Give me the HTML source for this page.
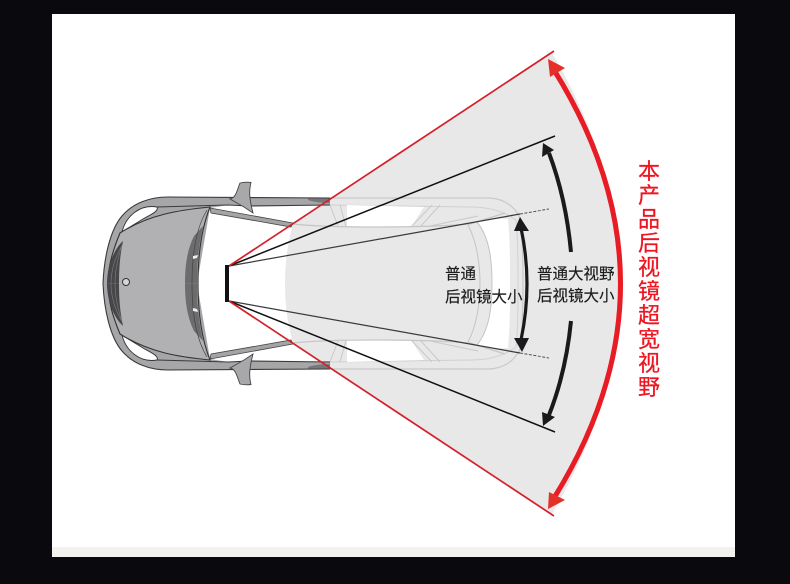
<!DOCTYPE html>
<html><head><meta charset="utf-8"><style>
html,body{margin:0;padding:0;background:#0a0a0e}
svg{display:block}
text{font-family:"Liberation Sans","Noto Sans CJK SC",sans-serif}
</style></head><body>
<svg width="790" height="584" viewBox="0 0 790 584" xmlns="http://www.w3.org/2000/svg">
<rect width="790" height="584" fill="#0a0a0e"/>
<rect x="52" y="14" width="683" height="543" fill="#fff"/>
<rect x="52" y="547" width="683" height="10" fill="#f3f2ee"/>

<!-- wedge -->
<path d="M293,224 C287,245 285,265 285,283.5 C285,302 287,322 293,343 L552,514 Q688,283.5 552,53 Z" fill="#e8e8e9"/>

<defs>
<g id="half">
 <!-- ghost rear half -->
 <path d="M330,198 L490,198 C505,199 515,207 520,218 C522,235 523,260 523,283.5" fill="none" stroke="#c9c9cb" stroke-width="1.2"/>
 <path d="M330,205 L470,207 C490,207 505,212 516,220 C518,240 518,260 518,283.5" fill="none" stroke="#d0d0d2" stroke-width="1"/>
 <path d="M347,205 L347,227 L411,227 L424,207 Z" fill="#fff"/>
 <path d="M293,224 C330,228 420,228 470,224 L505,213" fill="none" stroke="#c6c6c8" stroke-width="1.2"/>
 <path d="M330,205 L338,226 M340,205 L346,227 M411,227 L432,205 M420,227 L440,205 M430,226 L478,216" fill="none" stroke="#c9c9cb" stroke-width="1"/>
 <path d="M477,222 C490,219 500,218 508,219 C510,240 510,262 510,283.6 L492,283.6 C492,262 490,240 477,222Z" fill="#fff"/>
 <path d="M468,225 C476,240 480,262 480,283.5 M477,222 C490,238 492,262 492,283.5" fill="none" stroke="#c4c4c6" stroke-width="1"/>

 <!-- front body fill -->
 <path d="M103,283.6 C104,258 110,230 122,216 C133,203 150,197 168,197 L330,198 L330,205 L248,206 L228,205 L210,208 L197,283.6 Z" fill="#a6a6a8"/>
 <path d="M103,283.6 C104,258 110,230 122,216 C133,203 150,197 168,197 L330,198 M330,205 L248,206 L228,205 L157,207" fill="none" stroke="#3a3a3c" stroke-width="1.100"/>
 <!-- headlight -->
 <path d="M122,232 C126,216 140,204 157,207 C159,211 152,214 143,219 C135,224 128,228 122,232Z" fill="#fff" stroke="#333" stroke-width=".9"/>
 <!-- A pillar -->
 <path d="M210,208 L293,223 L291,227 L211,213 Z" fill="#a4a4a6" stroke="#444" stroke-width=".8"/>
 <path d="M308,198.500 L330,198.500 L330,203 C320,203 312,201.500 308,200Z" fill="#77777a"/>
 <!-- mirror -->
 <path d="M240,183 C244,182 248,182 251,182.500 C249,190 249,198 253,213 L244,207 L230,199 C236,198 237,190 240,183Z" fill="#a8a8aa" stroke="#444" stroke-width=".9"/>
 <!-- hood -->
 <path d="M210,207 C180,210 150,214 120,233 C113,250 108,266 108,283.6 L198,283.6 C198,260 200,232 210,207Z" fill="#b1b1b3"/>
 <path d="M108,283.5 C108,266 113,250 120,233 C150,214 180,210 210,207 C200,232 198,260 198,283.5" fill="none" stroke="#333" stroke-width="1.100"/>
 <!-- grille -->
 <path d="M123,241 C113,250 107,268 107,283.6 L119,283.6 C119,268 120,255 123,241Z" fill="#47474a"/>
 <path d="M121,247 C115,258 111,270 111,283.5 M122,245 C118,258 115,270 115,283.5" fill="none" stroke="#77777a" stroke-width=".7"/>
 <!-- wiper band -->
 <path d="M194,236 C187,250 185,266 185,283.6 L197,283.6 C197,266 198,250 203,226Z" fill="#6c6c6f"/>
 <path d="M207,210 C196,228 192,255 192,283.5" fill="none" stroke="#444" stroke-width=".7"/>
 <path d="M193,256 L198,255 L197,258 L193,259Z" fill="#eee"/>
</g>
</defs>
<use href="#half"/>
<use href="#half" transform="matrix(1 0 0 -1 0 567)"/>
<circle cx="126" cy="282" r="3.500" fill="#d6d6d8" stroke="#333" stroke-width="1"/>

<!-- mirror -->
<rect x="225" y="265" width="4" height="37" fill="#111"/>

<!-- sight lines -->
<path d="M229,266 L520,214 M229,301 L520,353" stroke="#3a3a3c" stroke-width="1.200" fill="none"/>
<path d="M520,214 L549,209 M520,353 L549,358" stroke="#555" stroke-width="1" stroke-dasharray="3 1.500" fill="none"/>
<path d="M229,266 L555,136 M229,301 L555,432" stroke="#111" stroke-width="1.500" fill="none"/>
<path d="M229,266 L554,51 M229,301 L554,516" stroke="#d3202a" stroke-width="1.700" fill="none"/>

<!-- black arrows -->
<path d="M521,228 Q533,283.500 521,340" fill="none" stroke="#1a1a1c" stroke-width="3.200"/>
<path d="M520,217 L529,231 L514,231Z M522,352 L529,338 L514,338Z" fill="#1a1a1c"/>
<path d="M549,153 Q566,198 571,252 M571,321 Q566,372 549,415" fill="none" stroke="#1a1a1c" stroke-width="4"/>
<path d="M543,143 L554,150 L542,157Z M543,426 L542,412 L555,417Z" fill="#1a1a1c"/>

<!-- red arrows -->
<path d="M554,70 Q687,283.500 554,498" fill="none" stroke="#e81c24" stroke-width="5"/>
<path d="M548,59 L565,68 L550,77Z M548,509 L549,492 L565,500Z" fill="#e5302a"/>

<!-- labels -->
<g font-size="15.500" fill="#1c1c1c" stroke="#1c1c1c" stroke-width=".15">
<text x="445" y="279">普通</text>
<text x="445" y="302">后视镜大小</text>
<text x="537" y="279">普通大视野</text>
<text x="537" y="301">后视镜大小</text>
</g>
<g font-size="22" fill="#ee1420" stroke="#ee1420" stroke-width=".25" text-anchor="middle">
<text x="649" y="179">本</text>
<text x="649" y="203">产</text>
<text x="649" y="227">品</text>
<text x="649" y="251">后</text>
<text x="649" y="275">视</text>
<text x="649" y="299">镜</text>
<text x="649" y="323">超</text>
<text x="649" y="347">宽</text>
<text x="649" y="371">视</text>
<text x="649" y="395">野</text>
</g>
</svg>
</body></html>
